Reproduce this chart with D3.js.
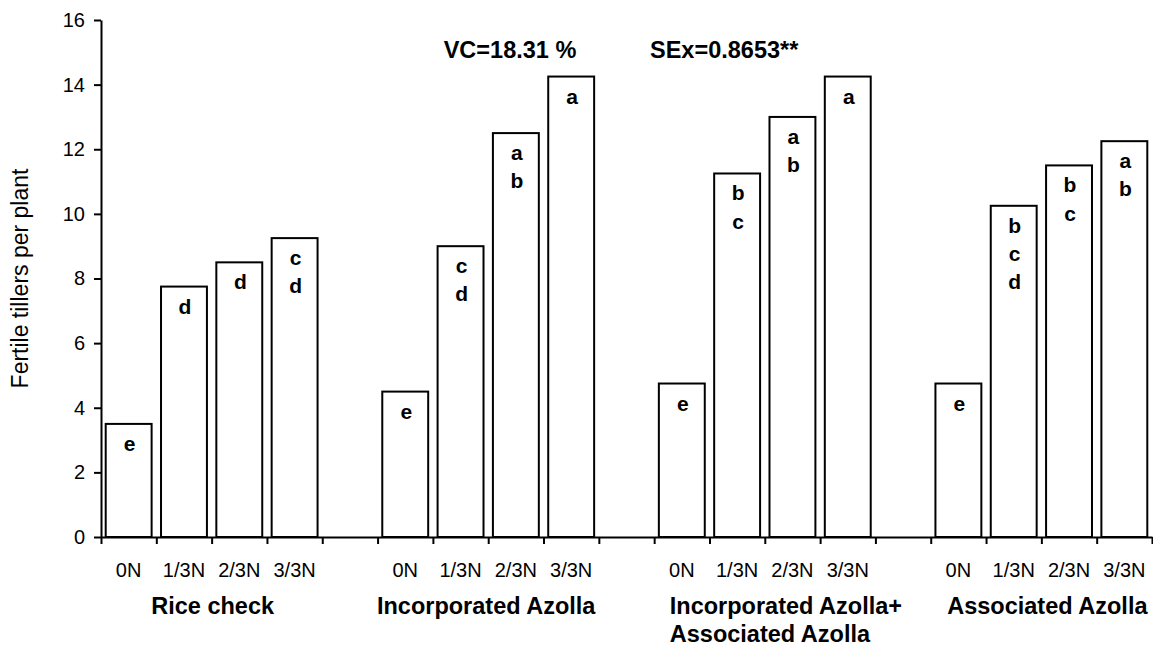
<!DOCTYPE html>
<html>
<head>
<meta charset="utf-8">
<script src="https://cdn.jsdelivr.net/npm/d3@7"></script>
<style>
  body { margin: 0; background: #fff; }
  svg text { font-family: "Liberation Sans", Arial, sans-serif; fill: #000; }
</style>
</head>
<body>
<svg id="chart" width="1153" height="646"></svg>
<script>
// groups and treatments
const groups = ["Rice check", "Incorporated Azolla", "Incorporated Azolla+|Associated Azolla", "Associated Azolla"];
const doses = ["0N", "1/3N", "2/3N", "3/3N"];

// fertile tillers per plant, one array per group
const riceCheck = [3.5, 7.75, 8.5, 9.25];
const incorporated = [4.5, 9.0, 12.5, 14.25];
const incAssociated = [4.75, 11.25, 13.0, 14.25];
const associated = [4.75, 10.25, 11.5, 12.25];

// significance letters
const riceLetters = ["e", "d", "d", "cd"];
const incLetters = ["e", "cd", "ab", "a"];
const incAssocLetters = ["e", "bc", "ab", "a"];
const assocLetters = ["e", "bcd", "bc", "ab"];

const yTicks = [0, 2, 4, 6, 8, 10, 12, 14, 16];
const vcText = "VC=18.31 %";
const sexText = "SEx=0.8653**";

const values = [riceCheck, incorporated, incAssociated, associated];
const letters = [riceLetters, incLetters, incAssocLetters, assocLetters];

// build slots: 4 bars then an empty slot between groups
let slots = [];
let data = [];
groups.forEach((g, gi) => {
  doses.forEach((d, di) => {
    const key = gi + "-" + di;
    slots.push(key);
    data.push({ key: key, dose: d, value: values[gi][di], letters: letters[gi][di], group: gi });
  });
  if (gi < groups.length - 1) slots.push("gap" + gi);
});

const svg = d3.select("#chart");
const mLeft = 101, mRight = 1152, mTop = 20, mBottom = 537;

const x = d3.scaleBand()
  .domain(slots)
  .range([mLeft, mRight])
  .paddingInner(0.17)
  .paddingOuter(0.085);

const xEdge = d3.scaleLinear().domain([0, slots.length]).range([mLeft, mRight]);

const y = d3.scaleLinear().domain([0, 16]).range([mBottom, mTop]);

// bars
svg.selectAll("rect.bar")
  .data(data)
  .join("rect")
  .attr("class", "bar")
  .attr("x", d => x(d.key))
  .attr("y", d => y(d.value))
  .attr("width", x.bandwidth())
  .attr("height", d => y(0) - y(d.value))
  .attr("fill", "#fff")
  .attr("stroke", "#000")
  .attr("stroke-width", 2);

// letters inside bars, one per line
data.forEach(d => {
  d.letters.split("").forEach((ch, i) => {
    svg.append("text")
      .attr("x", x(d.key) + x.bandwidth() / 2 + 1)
      .attr("y", y(d.value) + 27 + i * 28.3)
      .attr("text-anchor", "middle")
      .attr("font-size", 21)
      .attr("font-weight", "bold")
      .text(ch);
  });
});

// y axis
const yAxis = svg.append("g")
  .attr("transform", `translate(${mLeft},0)`)
  .call(d3.axisLeft(y).tickValues(yTicks).tickSize(7).tickPadding(9).tickSizeOuter(0));
yAxis.selectAll("text").attr("font-size", 20).attr("font-family", "Liberation Sans, Arial, sans-serif");
yAxis.selectAll("line, path").attr("stroke", "#000").attr("stroke-width", 2);

// x axis with ticks at slot boundaries
const xAxis = svg.append("g")
  .attr("transform", `translate(0,${mBottom})`)
  .call(d3.axisBottom(xEdge).tickValues(d3.range(0, slots.length + 1)).tickFormat("").tickSize(7).tickSizeOuter(0));
xAxis.selectAll("line, path").attr("stroke", "#000").attr("stroke-width", 2);

// dose labels
svg.selectAll("text.dose")
  .data(data)
  .join("text")
  .attr("class", "dose")
  .attr("x", d => x(d.key) + x.bandwidth() / 2)
  .attr("y", 577)
  .attr("text-anchor", "middle")
  .attr("font-size", 20)
  .text(d => d.dose);

// group labels
const groupShift = [1, -2, 0, 6];
groups.forEach((g, gi) => {
  const c = (x(gi + "-0") + x(gi + "-3") + x.bandwidth()) / 2 + groupShift[gi];
  const lines = g.split("|");
  const t = svg.append("text")
    .attr("font-size", 23.5)
    .attr("font-weight", "bold");
  if (lines.length === 1) {
    t.attr("x", c).attr("y", 614).attr("text-anchor", "middle").text(g);
  } else {
    lines.forEach((ln, i) => {
      t.append("tspan")
        .attr("x", c - 95)
        .attr("y", 614 + i * 28)
        .text(ln);
    });
  }
});

// y axis title
svg.append("text")
  .attr("transform", `translate(28,${(mTop + mBottom) / 2}) rotate(-90)`)
  .attr("text-anchor", "middle")
  .attr("font-size", 23)
  .text("Fertile tillers per plant");

// statistics
svg.append("text")
  .attr("x", 510).attr("y", 58)
  .attr("text-anchor", "middle")
  .attr("font-size", 23.5).attr("font-weight", "bold")
  .text(vcText);
svg.append("text")
  .attr("x", 650).attr("y", 58)
  .attr("font-size", 23.5).attr("font-weight", "bold")
  .text(sexText);
</script>
</body>
</html>
